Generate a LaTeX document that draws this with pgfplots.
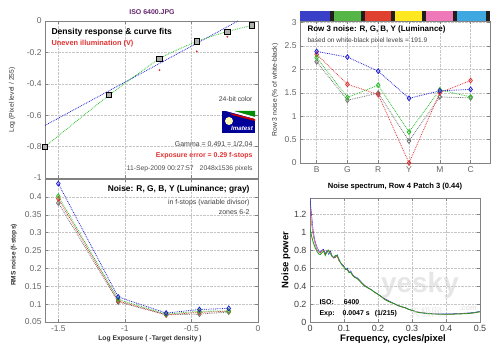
\documentclass[border=0pt]{standalone}
\usepackage{fontspec}
\setmainfont{Liberation Sans}
\newfontfamily\cjk{Noto Sans CJK SC}
\usepackage{pgfplots}
\pgfplotsset{compat=1.18}
\definecolor{mblue}{RGB}{30,30,215}
\definecolor{mgreen}{RGB}{40,190,40}
\definecolor{mred}{RGB}{225,50,50}
\definecolor{mgray}{RGB}{110,110,110}
\definecolor{tickgray}{RGB}{100,100,100}
\definecolor{framegray}{RGB}{130,130,130}
\definecolor{cbblue}{RGB}{58,63,200}
\definecolor{cbgreen}{RGB}{85,181,69}
\definecolor{cbred}{RGB}{224,64,48}
\definecolor{cbyellow}{RGB}{255,232,32}
\definecolor{cbpink}{RGB}{238,120,184}
\definecolor{cbcyan}{RGB}{64,168,224}
\definecolor{cbdark}{RGB}{35,30,30}
\definecolor{titlepurple}{RGB}{100,40,110}
\pgfplotsset{
  mat/.style={
    scale only axis,
    anchor=south west,
    axis line style={framegray},
    tick style={framegray, thin},
    major tick length=3bp,
    tick align=inside,
    grid=major,
    grid style={densely dotted, gray!45},
    ticklabel style={font=\fontsize{8.5}{9}\selectfont, text=tickgray},
    /pgf/number format/assume math mode=true,
    /pgf/number format/fixed,
    /pgf/number format/precision=2,
    scaled ticks=false,
  },
  dia/.style={densely dotted, thick, mark=diamond, mark size=2.4bp, mark options={solid, thick}},
}
\begin{document}
\begin{tikzpicture}
\useasboundingbox (0,0) rectangle (500bp,353bp);

% ---------------- Top-left: density response
\begin{axis}[mat, at={(45bp,175bp)}, width=213bp, height=157bp,
  xmin=-1.6, xmax=0, ymin=-1, ymax=0,
  xtick={-1.5,-1,-0.5,0}, xticklabels={},
  ytick={-1,-0.8,-0.6,-0.4,-0.2,0},
  yticklabels={-1,-0.8,-0.6,-0.4,-0.2,0}]
\addplot[mblue, densely dotted, thick] coordinates {(-1.6,-0.665) (-0.15,0)};
\addplot[mgreen, densely dotted, thick, smooth, tension=0.3] coordinates {
 (-1.6,-0.80) (-1.12,-0.473) (-0.74,-0.24) (-0.46,-0.13) (-0.23,-0.067) (-0.045,-0.028)};
\addplot[only marks, mred, mark=*, mark size=0.7bp] coordinates {
 (-0.74,-0.313) (-0.46,-0.194) (-0.23,-0.10)};
\addplot[only marks, mark=square*, mark size=2.6bp, mark options={fill=gray!62, draw=black, thick}] coordinates {
 (-1.6,-0.80) (-1.12,-0.473) (-0.74,-0.24) (-0.46,-0.13) (-0.23,-0.067) (-0.045,-0.028)};
\end{axis}
\node[font=\fontsize{7}{8}\selectfont\bfseries, text=titlepurple] at (152bp,341bp) {ISO 6400.JPG};
\node[anchor=west, font=\fontsize{8.6}{10}\selectfont\bfseries] at (48bp,321bp) {Density response \& curve fits};
\node[anchor=west, font=\fontsize{7.4}{9}\selectfont\bfseries, text=mred] at (48bp,309bp) {Uneven illumination (V)};
\node[anchor=east, font=\fontsize{6.8}{8}\selectfont, text=black!75] at (256bp,254bp) {24-bit color};
\node[anchor=east, font=\fontsize{7}{8}\selectfont, text=black!75] at (256bp,209bp) {Gamma = 0.491 = 1/2.04};
\node[anchor=east, font=\fontsize{7}{8}\selectfont\bfseries, text=mred] at (256bp,197bp) {Exposure error = 0.29 f-stops};
\node[anchor=east, font=\fontsize{6.8}{8}\selectfont, text=black!70] at (256bp,184bp) {11-Sep-2009 00:27:57\hspace{6bp}2048x1536 pixels};
% Imatest logo
\fill[blue!60!black] (222bp,220bp) rectangle (255bp,242bp);
\fill[green!55!black] (234bp,242bp) -- (255bp,242bp) -- (255bp,236bp) -- cycle;
\fill[white] (226bp,242bp) -- (234bp,242bp) -- (255bp,236bp) -- (255bp,234bp) -- cycle;
\fill[red!80!black] (230bp,240bp) -- (255bp,234bp) -- (255bp,232bp) -- (232bp,238bp) -- cycle;
\fill[yellow!30] (229bp,232bp) circle (4bp);
\node[font=\fontsize{6.2}{7}\selectfont\bfseries\itshape, text=white] at (242bp,224.5bp) {Imatest};
\node[rotate=90, font=\fontsize{6.8}{8}\selectfont, text=black!80] at (12bp,253bp) {Log (Pixel level / 255)};

% ---------------- Top-right: Row 3 noise
\begin{axis}[mat, at={(300bp,190bp)}, width=190bp, height=142bp,
  xmin=0.46, xmax=6.63, ymin=0, ymax=3.03,
  xtick={1,2,3,4,5,6}, xticklabels={B,G,R,Y,M,C},
  ytick={0,0.5,1,1.5,2,2.5,3},
  yticklabels={0,0.5,1,1.5,2,2.5,3},
  clip=false]
\fill[cbdark] (axis cs:0.46,3.03) rectangle (axis cs:6.63,3.245);
\fill[cbblue] (axis cs:0.46,3.03) rectangle (axis cs:1.43,3.245);
\fill[cbgreen] (axis cs:1.56,3.03) rectangle (axis cs:2.43,3.245);
\fill[cbred] (axis cs:2.56,3.03) rectangle (axis cs:3.43,3.245);
\fill[cbyellow] (axis cs:3.56,3.03) rectangle (axis cs:4.43,3.245);
\fill[cbpink] (axis cs:4.56,3.03) rectangle (axis cs:5.43,3.245);
\fill[cbcyan] (axis cs:5.56,3.03) rectangle (axis cs:6.50,3.245);
\addplot[dia, mgray] coordinates {(1,2.16) (2,1.34) (3,1.49) (4,0.47) (5,1.41) (6,1.39)};
\addplot[dia, mred] coordinates {(1,2.32) (2,1.68) (3,1.46) (4,0.0) (5,1.50) (6,1.76)};
\addplot[dia, mgreen] coordinates {(1,2.25) (2,1.40) (3,1.66) (4,0.66) (5,1.56) (6,1.41)};
\addplot[dia, mblue] coordinates {(1,2.38) (2,2.26) (3,1.96) (4,1.38) (5,1.54) (6,1.57)};
\end{axis}
\node[anchor=west, font=\fontsize{8}{9}\selectfont\bfseries] at (304bp,324bp) {Row 3 noise: R, G, B, Y (Luminance)};
\node[anchor=west, font=\fontsize{6.6}{8}\selectfont, text=black!75] at (304bp,312bp) {based on white-black pixel levels = 191.9};
\node[rotate=90, font=\fontsize{6.8}{8}\selectfont, text=black!80] at (275bp,263bp) {Row 3 noise (\% of white-black)};

% ---------------- Bottom-left: RMS noise
\begin{axis}[mat, at={(45bp,31bp)}, width=213bp, height=143bp,
  xmin=-1.6, xmax=0, ymin=0.05, ymax=0.45,
  xtick={-1.5,-1,-0.5,0}, xticklabels={-1.5,-1,-0.5,0},
  ytick={0.05,0.1,0.15,0.2,0.25,0.3,0.35,0.4},
  yticklabels={0.05,0.1,0.15,0.2,0.25,0.3,0.35,0.4}]
\addplot[dia, mgray] coordinates {(-1.5,0.383) (-1.05,0.106) (-0.69,0.070) (-0.44,0.072) (-0.22,0.078)};
\addplot[dia, mred] coordinates {(-1.5,0.395) (-1.05,0.109) (-0.69,0.070) (-0.44,0.077) (-0.22,0.080)};
\addplot[dia, mgreen] coordinates {(-1.5,0.402) (-1.05,0.113) (-0.69,0.072) (-0.44,0.080) (-0.22,0.081)};
\addplot[dia, mblue] coordinates {(-1.5,0.437) (-1.05,0.120) (-0.69,0.075) (-0.44,0.085) (-0.22,0.088)};
\end{axis}
\node[anchor=east, font=\fontsize{8.4}{10}\selectfont\bfseries] at (253bp,164bp) {Noise: R, G, B, Y (Luminance; gray)};
\node[anchor=east, font=\fontsize{7}{8}\selectfont, text=black!75] at (253bp,150bp) {in f-stops (variable divisor)};
\node[anchor=east, font=\fontsize{7}{8}\selectfont, text=black!75] at (253bp,141bp) {zones 6-2};
\node[rotate=90, font=\fontsize{6.6}{8}\selectfont\bfseries, text=black!80] at (14bp,98bp) {RMS noise (f-stops)};
\node[font=\fontsize{6.8}{8}\selectfont\bfseries, text=black!80] at (150bp,14bp) {Log Exposure ( -Target density )};

% ---------------- Bottom-right: Noise spectrum
\begin{axis}[mat, at={(310bp,31bp)}, width=170bp, height=124bp,
  xmin=0, xmax=0.5, ymin=0, ymax=1.38,
  xtick={0,0.1,0.2,0.3,0.4,0.5}, xticklabels={0,0.1,0.2,0.3,0.4,0.5},
  ytick={0,0.2,0.4,0.6,0.8,1,1.2}, yticklabels={0,0.2,0.4,0.6,0.8,1,1.2},
  ticklabel style={font=\fontsize{9}{10}\selectfont, text=black!75}]
\addplot[mblue, thin] coordinates {
 (0,1.38) (0.005,1.18) (0.01,1.00) (0.015,0.90) (0.02,0.84) (0.025,0.80) (0.03,0.78)
 (0.035,0.80) (0.04,0.81) (0.045,0.76) (0.05,0.80) (0.055,0.75) (0.06,0.79) (0.065,0.74)
 (0.07,0.71) (0.075,0.72) (0.08,0.75) (0.085,0.69) (0.09,0.66) (0.095,0.64) (0.1,0.62)
 (0.105,0.58) (0.11,0.60) (0.115,0.55) (0.12,0.57) (0.125,0.53) (0.13,0.51) (0.14,0.49)
 (0.15,0.45) (0.16,0.41) (0.17,0.385) (0.18,0.36) (0.19,0.335) (0.2,0.31) (0.21,0.285)
 (0.22,0.26) (0.23,0.24) (0.24,0.22) (0.25,0.20) (0.26,0.185) (0.27,0.17) (0.28,0.16)
 (0.29,0.145) (0.3,0.13) (0.31,0.12) (0.32,0.11) (0.34,0.10) (0.36,0.092) (0.38,0.09)
 (0.4,0.09) (0.42,0.092) (0.44,0.095) (0.46,0.10) (0.48,0.105) (0.5,0.12)};
\addplot[mred, thin] coordinates {
 (0,1.25) (0.005,1.08) (0.01,0.95) (0.015,0.87) (0.02,0.81) (0.025,0.78) (0.03,0.77)
 (0.035,0.79) (0.04,0.80) (0.045,0.75) (0.05,0.79) (0.055,0.78) (0.06,0.77) (0.065,0.73)
 (0.07,0.71) (0.075,0.73) (0.08,0.73) (0.085,0.68) (0.09,0.66) (0.095,0.63) (0.1,0.61)
 (0.105,0.59) (0.11,0.58) (0.115,0.56) (0.12,0.55) (0.125,0.53) (0.13,0.50) (0.14,0.48)
 (0.15,0.44) (0.16,0.41) (0.17,0.38) (0.18,0.36) (0.19,0.33) (0.2,0.305) (0.21,0.28)
 (0.22,0.255) (0.23,0.235) (0.24,0.215) (0.25,0.20) (0.26,0.18) (0.27,0.165) (0.28,0.155)
 (0.29,0.14) (0.3,0.128) (0.31,0.118) (0.32,0.108) (0.34,0.098) (0.36,0.09) (0.38,0.087)
 (0.4,0.086) (0.42,0.088) (0.44,0.09) (0.46,0.095) (0.48,0.10) (0.5,0.112)};
\addplot[mgreen!80!black, thick] coordinates {
 (0,1.04) (0.005,0.95) (0.01,0.88) (0.015,0.83) (0.02,0.79) (0.025,0.76) (0.03,0.75)
 (0.035,0.77) (0.04,0.79) (0.045,0.74) (0.05,0.78) (0.055,0.80) (0.06,0.76) (0.065,0.73)
 (0.07,0.72) (0.075,0.74) (0.08,0.74) (0.085,0.70) (0.09,0.66) (0.095,0.63) (0.1,0.61)
 (0.105,0.59) (0.11,0.58) (0.115,0.55) (0.12,0.55) (0.125,0.52) (0.13,0.50) (0.14,0.48)
 (0.15,0.44) (0.16,0.40) (0.17,0.38) (0.18,0.36) (0.19,0.33) (0.2,0.31) (0.21,0.28)
 (0.22,0.25) (0.23,0.23) (0.24,0.215) (0.25,0.20) (0.26,0.18) (0.27,0.17) (0.28,0.16)
 (0.29,0.14) (0.3,0.13) (0.31,0.115) (0.32,0.105) (0.34,0.095) (0.36,0.09) (0.38,0.087)
 (0.4,0.086) (0.42,0.087) (0.44,0.09) (0.46,0.092) (0.48,0.10) (0.5,0.115)};
\end{axis}
\node[font=\fontsize{7.6}{9}\selectfont\bfseries] at (395bp,166bp) {Noise spectrum, Row 4 Patch 3 (0.44)};
\node[rotate=90, font=\fontsize{9.5}{10}\selectfont\bfseries] at (286bp,93bp) {Noise power};
\node[font=\fontsize{9.5}{10}\selectfont\bfseries] at (393bp,14bp) {Frequency, cycles/pixel};
\node[anchor=west, font=\fontsize{7}{8}\selectfont\bfseries] at (316bp,51bp) {ISO:\hspace{10bp}6400};
\node[anchor=west, font=\fontsize{7}{8}\selectfont\bfseries] at (316bp,39bp) {Exp:\hspace{8bp}0.0047 s\hspace{5bp}(1/215)};
% watermark
\node[font=\fontsize{28}{28}\selectfont\bfseries, text=gray!35, opacity=0.55, inner sep=0pt] at (420bp,68bp) {yesky};
\node[font=\cjk\fontsize{11}{11}\selectfont, text=gray!35, opacity=0.55, inner sep=0pt] at (426bp,41bp) {天极网};
\node[font=\fontsize{7.5}{8}\selectfont\bfseries, text=gray!35, opacity=0.55, inner sep=0pt] at (468bp,44bp) {.com};
\end{tikzpicture}
\end{document}
